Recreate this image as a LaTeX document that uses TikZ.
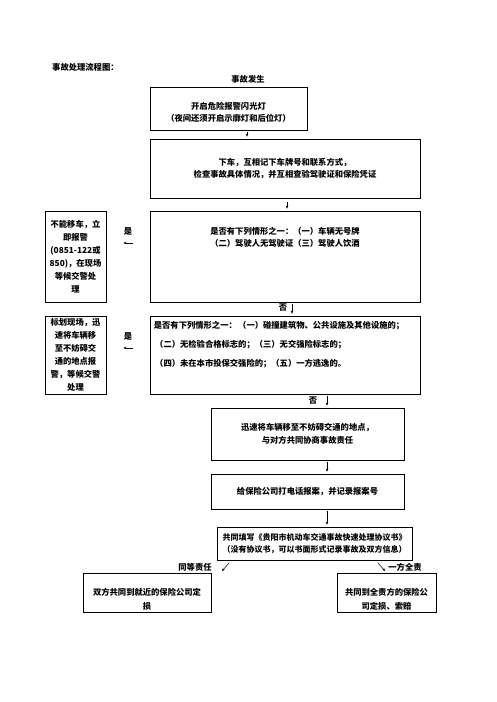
\documentclass[tikz,border=0pt]{standalone}
\usepackage{fontspec}
\setmainfont{Noto Sans CJK SC}
\usepackage{tikz}
\usetikzlibrary{arrows.meta,positioning,calc}

\begin{document}
\begin{tikzpicture}[x=1pt,y=-1pt,
    font=\fontsize{8.3}{12}\selectfont\bfseries,
    flowbox/.style={draw, line width=0.7pt, inner sep=0pt, align=center},
    sidebox/.style={flowbox, minimum width=61, font=\fontsize{8.3}{13}\selectfont\bfseries},
    arr/.style={-{Stealth[length=3pt,width=2.6pt]}, line width=0.5pt, shorten <=2pt, shorten >=2pt},
    lbl/.style={inner sep=0pt}]
  \useasboundingbox (0,0) rectangle (496,702);

  % heading
  \node[lbl, anchor=west] (title) at (52,67) {事故处理流程图：};
  \node[lbl] (start) at (248,79) {事故发生};

  % main column
  \node[flowbox, minimum width=157, minimum height=43] (b1) at (228.5,108.5) {};
  \node[lbl, align=center] (t1) at ($(b1.center)+(0,4)$)
    {开启危险报警闪光灯\\（夜间还须开启示廓灯和后位灯）};
  \node[flowbox, minimum width=270, minimum height=59] (b2) at (285,168.5)
    {下车，互相记下车牌号和联系方式，\\检查事故具体情况，并互相查验驾驶证和保险凭证};
  \node[flowbox, minimum width=270, minimum height=91] (b3) at (285,256.5) {};
  \node[lbl, align=center] (t3) at ($(b3.north)+(0,27)$)
    {是否有下列情形之一：（一）车辆无号牌\\（二）驾驶人无驾驶证（三）驾驶人饮酒};
  \node[flowbox, minimum width=270, minimum height=78] (b4) at (285,355) {};
  \node[lbl, align=left, anchor=north west] (t4) at ($(b4.north west)+(4,5)$)
    {是否有下列情形之一：\,（一）碰撞建筑物、公共设施及其他设施的；\\[7pt]
     \,（二）无检验合格标志的；（三）无交强险标志的；\\[7pt]
     \,（四）未在本市投保交强险的；（五）一方逃逸的。};
  \node[flowbox, minimum width=193, minimum height=52] (b5) at (307.5,434)
    {迅速将车辆移至不妨碍交通的地点，\\[1pt]与对方共同协商事故责任};
  \node[flowbox, minimum width=193, minimum height=35] (b6) at (307.5,491.5)
    {给保险公司打电话报案，并记录报案号};
  \node[flowbox, minimum width=195, minimum height=33,
        font=\fontsize{8}{12}\selectfont\bfseries] (b7) at (314.5,543.5)
    {共同填写《贵阳市机动车交通事故快速处理协议书》\\（没有协议书，可以书面形式记录事故及双方信息）};

  % side boxes
  \node[sidebox, minimum height=91] (lb1) at (75.5,256.5)
    {不能移车，立\\即报警\\(0851-122或\\850)，在现场\\等候交警处\\理};
  \node[sidebox, minimum height=78] (lb2) at (75.5,355)
    {标划现场，迅\\速将车辆移\\至不妨碍交\\通的地点报\\警，等候交警\\处理};

  % result boxes
  \node[flowbox, minimum width=128, minimum height=39] (b8) at (147,592.5) {};
  \node[lbl, align=center] (t8) at ($(b8.center)+(0,6.5)$)
    {双方共同到就近的保险公司定\\[2pt]损};
  \node[flowbox, minimum width=99, minimum height=39] (b9) at (386.5,592.5) {};
  \node[lbl, align=center] (t9) at ($(b9.center)+(0,6.5)$)
    {共同到全责方的保险公\\[2pt]司定损、索赔};

  % arrow columns and rows
  \coordinate (c1) at (247,0);
  \coordinate (c2) at (287,0);
  \coordinate (c3) at (292,0);
  \coordinate (c4) at (327,0);
  \coordinate (r1) at (0,243);
  \coordinate (r2) at (0,348);

  \draw[arr] (b1.south -| c1) -- (b2.north -| c1);
  \draw[arr, shorten <=4pt] (b2.south -| c2) -- (b3.north -| c2);
  \draw[arr] (b3.south -| c3) -- (b4.north -| c3);
  \node[lbl] (no1) at (283,308) {否};
  \draw[arr] (b4.south -| c4) -- (b5.north -| c4);
  \node[lbl] (no2) at (313,401) {否};
  \draw[arr] (b5.south -| c4) -- (b6.north -| c4);
  \draw[arr] (b6.south -| c4) -- (b7.north -| c4);

  \draw[arr, shorten <=17pt, shorten >=17pt] (b3.west |- r1) -- (lb1.east |- r1);
  \node[lbl] (yes1) at (128,231) {是};
  \draw[arr, shorten <=17pt, shorten >=17pt] (b4.west |- r2) -- (lb2.east |- r2);
  \node[lbl] (yes2) at (128,336) {是};

  % split
  \coordinate (sl) at (229,563);
  \coordinate (sr) at (378,563);
  \draw[arr, shorten <=0pt, shorten >=0pt] (sl) -- ++(-7,8);
  \draw[arr, shorten <=0pt, shorten >=0pt] (sr) -- ++(7,8);
  \node[lbl] (eq) at (195,567) {同等责任};
  \node[lbl] (full) at (405,567) {一方全责};
\end{tikzpicture}
\end{document}
